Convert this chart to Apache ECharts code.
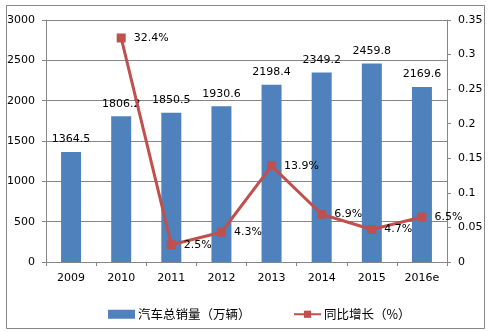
<!DOCTYPE html>
<html>
<head>
<meta charset="utf-8">
<script src="https://cdn.jsdelivr.net/npm/echarts@6/dist/echarts.min.js"></script>
<style>
html,body{margin:0;padding:0;background:#fff;}
#chart{width:490px;height:332px;}
</style>
</head>
<body>
<div id="chart"></div>
<script>
// Annual vehicle sales (10k units) and year-on-year growth
const years = ['2009', '2010', '2011', '2012', '2013', '2014', '2015', '2016e'];
const sales = [1364.5, 1806.2, 1850.5, 1930.6, 2198.4, 2349.2, 2459.8, 2169.6];
const growth = [null, 0.324, 0.025, 0.043, 0.139, 0.069, 0.047, 0.065];
const growthLabels = ['', '32.4%', '2.5%', '4.3%', '13.9%', '6.9%', '4.7%', '6.5%'];

const salesName = '汽车总销量（万辆）';
const growthName = '同比增长（%）';

const textFont = 'DejaVu Sans';
const axisGrey = '#868686';

const legendBase = {
  top: 303,
  itemWidth: 27,
  itemHeight: 9,
  itemGap: 4,
  textStyle: {fontFamily: 'Noto Sans CJK SC', fontSize: 12.5, color: '#000', padding: [0, 0, 0, -2]}
};

const chart = echarts.init(document.getElementById('chart'), null, {renderer: 'canvas'});
chart.setOption({
  animation: false,
  backgroundColor: '#fff',
  graphic: [{
    type: 'rect',
    shape: {x: 6.5, y: 5.5, width: 478, height: 323},
    style: {fill: 'none', stroke: axisGrey, lineWidth: 1},
    silent: true
  }],
  grid: {left: 46, right: 43, top: 20, bottom: 70},
  legend: [
    Object.assign({}, legendBase, {left: 103, data: [{name: salesName, icon: 'rect'}]}),
    Object.assign({}, legendBase, {left: 288, data: [{name: growthName}]})
  ],
  xAxis: {
    type: 'category',
    data: years,
    boundaryGap: true,
    axisLine: {lineStyle: {color: axisGrey}},
    axisTick: {show: true, length: 4, alignWithLabel: false, lineStyle: {color: axisGrey}},
    axisLabel: {color: '#000', fontFamily: textFont, fontSize: 11, margin: 11}
  },
  yAxis: [{
    type: 'value',
    min: 0, max: 3000, interval: 500,
    axisLine: {show: true, lineStyle: {color: axisGrey}},
    axisTick: {show: true, length: 4, lineStyle: {color: axisGrey}},
    splitLine: {show: true, lineStyle: {color: axisGrey}},
    axisLabel: {
      color: '#000', fontFamily: textFont, fontSize: 11, margin: 11,
      formatter: v => String(v)
    }
  }, {
    type: 'value',
    min: 0, max: 0.35, interval: 0.05,
    axisLine: {show: true, lineStyle: {color: axisGrey}},
    axisTick: {show: true, length: 4, lineStyle: {color: axisGrey}},
    splitLine: {show: false},
    axisLabel: {
      color: '#000', fontFamily: textFont, fontSize: 11, margin: 11,
      formatter: v => String(parseFloat(v.toFixed(2)))
    }
  }],
  series: [{
    name: salesName,
    type: 'bar',
    data: sales,
    barWidth: 20,
    itemStyle: {color: '#4F81BD'},
    label: {
      show: true, position: 'top', distance: 7,
      color: '#000', fontFamily: textFont, fontSize: 11,
      formatter: p => p.value.toFixed(1)
    },
    z: 2
  }, {
    name: growthName,
    type: 'line',
    yAxisIndex: 1,
    data: growth,
    symbol: 'rect',
    symbolSize: 9,
    lineStyle: {color: '#C0504D', width: 3},
    itemStyle: {color: '#C0504D'},
    label: {
      show: true, position: 'right', distance: 8,
      color: '#000', fontFamily: textFont, fontSize: 11,
      formatter: p => growthLabels[p.dataIndex]
    },
    z: 3
  }]
});
</script>
</body>
</html>
